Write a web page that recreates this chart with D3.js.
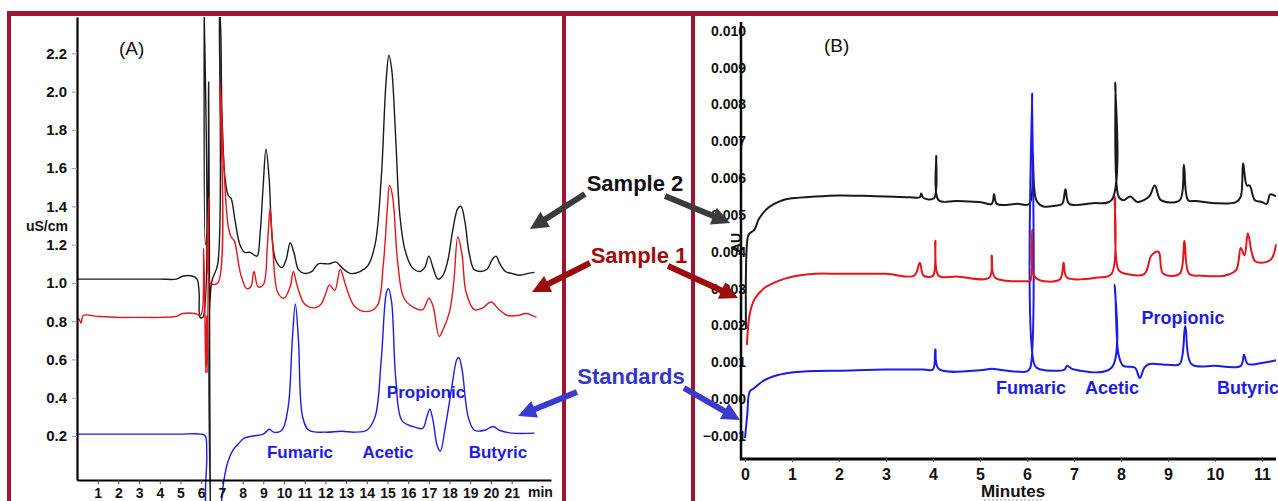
<!DOCTYPE html>
<html>
<head>
<meta charset="utf-8">
<script src="https://cdn.jsdelivr.net/npm/d3@7"></script>
<style>
  body { margin: 0; background: #fff; }
  svg { display: block; }
</style>
</head>
<body>
<script>
// Panel A: ion chromatography, time (min) vs conductivity (uS/cm)
const yTicksA = [0.2, 0.4, 0.6, 0.8, 1.0, 1.2, 1.4, 1.6, 1.8, 2.0, 2.2];
const xTicksA = d3.range(1, 22);

const sample2A = [
  [0, 1.02], [1, 1.02], [2, 1.02], [3, 1.02], [4, 1.02], [4.8, 1.02], [5.1, 1.035], [5.6, 1.035],
  [5.8, 1.02], [5.9, 0.95], [5.95, 0.82], [6.08, 0.82], [6.14, 2.45], [6.2, 1.2], [6.3, 1.3],
  [6.36, 2.05], [6.4, 1.0], [6.44, -0.15], [6.5, 1.0], [6.8, 1.1], [6.88, 2.45], [6.95, 2.3],
  [7.0, 1.9], [7.15, 1.55], [7.3, 1.46], [7.45, 1.44], [7.63, 1.33], [7.87, 1.2], [8.1, 1.16],
  [8.36, 1.16], [8.5, 1.15], [8.7, 1.14], [8.84, 1.25], [8.99, 1.5], [9.13, 1.70], [9.28, 1.55],
  [9.42, 1.25], [9.6, 1.12], [9.9, 1.08], [10.1, 1.12], [10.3, 1.21], [10.5, 1.15], [10.7, 1.07],
  [11.0, 1.05], [11.35, 1.06], [11.65, 1.10], [12.0, 1.10], [12.2, 1.10], [12.5, 1.11], [12.8, 1.08],
  [13.2, 1.05], [13.7, 1.06], [14.05, 1.09], [14.4, 1.2], [14.7, 1.55], [14.93, 2.05], [15.07, 2.19],
  [15.2, 2.12], [15.4, 1.75], [15.6, 1.35], [15.85, 1.17], [16.2, 1.08], [16.57, 1.06], [16.8, 1.08],
  [17.0, 1.14], [17.2, 1.08], [17.44, 1.02], [17.68, 1.04], [17.92, 1.12], [18.16, 1.28], [18.4, 1.39],
  [18.55, 1.40], [18.74, 1.32], [18.94, 1.16], [19.18, 1.07], [19.47, 1.06], [19.8, 1.07], [20.05, 1.12],
  [20.24, 1.14], [20.43, 1.1], [20.7, 1.06], [21.0, 1.05], [21.4, 1.04], [21.8, 1.05], [22.1, 1.055]
];

const sample1A = [
  [0, 0.82], [0.1, 0.81], [0.2, 0.79], [0.3, 0.83], [1, 0.825], [2, 0.82], [3, 0.82], [4, 0.82],
  [4.8, 0.825], [5.1, 0.84], [5.7, 0.84], [5.95, 0.83], [6.05, 0.85], [6.12, 1.18], [6.18, 0.83],
  [6.22, 0.53], [6.26, 0.83], [6.29, 0.53], [6.33, 0.9], [6.38, 1.45], [6.44, 1.0], [6.8, 1.0],
  [6.9, 2.05], [7.0, 1.85], [7.1, 1.6], [7.3, 1.3], [7.45, 1.24], [7.6, 1.22], [7.9, 1.05],
  [8.2, 0.97], [8.4, 0.98], [8.55, 1.06], [8.75, 0.98], [9.0, 0.99], [9.2, 1.2], [9.33, 1.39],
  [9.45, 1.2], [9.7, 0.95], [10.0, 0.92], [10.3, 0.98], [10.45, 1.06], [10.65, 0.98], [11.0, 0.89],
  [11.5, 0.87], [11.8, 0.89], [12.0, 0.94], [12.2, 0.99], [12.45, 0.96], [12.72, 1.07], [13.0, 0.98],
  [13.4, 0.88], [14.0, 0.85], [14.5, 0.88], [14.8, 1.1], [15.0, 1.4], [15.1, 1.51], [15.25, 1.45],
  [15.5, 1.1], [15.8, 0.92], [16.3, 0.87], [16.7, 0.86], [17.0, 0.92], [17.2, 0.88], [17.5, 0.72],
  [17.7, 0.76], [18.0, 0.85], [18.2, 1.0], [18.4, 1.24], [18.6, 1.15], [18.8, 0.95], [19.2, 0.86],
  [19.6, 0.87], [20.0, 0.90], [20.4, 0.86], [20.8, 0.83], [21.3, 0.83], [21.7, 0.84], [22.2, 0.82]
];

const standardsA = [
  [0, 0.21], [1, 0.21], [2, 0.21], [3, 0.21], [4, 0.21], [5, 0.21], [6.0, 0.21], [6.2, 0.2],
  [6.27, 0.1], [6.34, -0.2], [6.9, -0.2], [7.0, -0.12], [7.1, -0.03], [7.25, 0.05], [7.5, 0.12],
  [7.8, 0.16], [8.1, 0.19], [8.5, 0.2], [9.0, 0.21], [9.3, 0.235], [9.5, 0.22], [9.9, 0.23],
  [10.2, 0.35], [10.4, 0.7], [10.55, 0.89], [10.7, 0.7], [10.9, 0.3], [11.2, 0.23], [12.0, 0.22],
  [12.8, 0.225], [13.4, 0.22], [14.0, 0.23], [14.4, 0.3], [14.7, 0.6], [14.95, 0.95], [15.05, 0.97],
  [15.2, 0.9], [15.4, 0.5], [15.7, 0.28], [16.2, 0.25], [16.7, 0.24], [16.9, 0.3], [17.05, 0.34],
  [17.2, 0.28], [17.4, 0.15], [17.55, 0.12], [17.8, 0.25], [18.1, 0.45], [18.35, 0.6], [18.45, 0.61],
  [18.6, 0.55], [18.9, 0.3], [19.2, 0.23], [19.7, 0.23], [20.1, 0.25], [20.4, 0.23], [21.0, 0.215],
  [22.1, 0.215]
];

// Panel B: UV detection, time (min) vs absorbance (AU)
const yTicksB = [-0.001, 0, 0.001, 0.002, 0.003, 0.004, 0.005, 0.006, 0.007, 0.008, 0.009, 0.010];
const xTicksB = d3.range(0, 12);

const sample2B = [
  [0.02, 0.0019], [0.06, 0.0044], [0.1, 0.0045], [0.2, 0.0046], [0.3, 0.0049], [0.5, 0.0052],
  [0.8, 0.0054], [1.0, 0.00545], [1.5, 0.0055], [2.0, 0.00553], [2.5, 0.00552], [3.0, 0.0055],
  [3.5, 0.00548], [3.72, 0.00548], [3.75, 0.00558], [3.8, 0.00546], [4.02, 0.00545], [4.07, 0.0066],
  [4.12, 0.0054], [4.5, 0.00538], [5.0, 0.00535], [5.25, 0.0053], [5.3, 0.00556], [5.36, 0.0053],
  [5.8, 0.0053], [6.05, 0.0053], [6.12, 0.0067], [6.2, 0.0054], [6.35, 0.00523], [6.6, 0.00525],
  [6.75, 0.0053], [6.82, 0.0057], [6.9, 0.0053], [7.4, 0.00532], [7.8, 0.0054], [7.88, 0.0086],
  [7.95, 0.0055], [8.05, 0.0054], [8.2, 0.0055], [8.35, 0.00535], [8.6, 0.0055], [8.72, 0.0058],
  [8.85, 0.0054], [9.25, 0.0054], [9.34, 0.00636], [9.43, 0.0054], [9.6, 0.00538], [10.0, 0.00532],
  [10.45, 0.00535], [10.55, 0.0055], [10.6, 0.0064], [10.68, 0.0058], [10.74, 0.0058], [10.85, 0.0054],
  [11.0, 0.00535], [11.1, 0.0053], [11.18, 0.00556], [11.3, 0.0055]
];

const sample1B = [
  [0.04, 0.00147], [0.1, 0.0023], [0.2, 0.0027], [0.4, 0.003], [0.7, 0.0032], [1.0, 0.00332],
  [1.5, 0.0034], [2.0, 0.0034], [3.0, 0.0034], [3.6, 0.00335], [3.72, 0.0037], [3.8, 0.00335],
  [4.0, 0.00335], [4.05, 0.0043], [4.12, 0.00335], [4.5, 0.00333], [5.2, 0.0033], [5.25, 0.0039],
  [5.32, 0.0033], [6.0, 0.0032], [6.07, 0.0032], [6.11, 0.0046], [6.18, 0.0033], [6.7, 0.00325],
  [6.78, 0.0037], [6.85, 0.0033], [7.5, 0.0033], [7.8, 0.0034], [7.87, 0.0055], [7.95, 0.0035],
  [8.1, 0.0034], [8.5, 0.0034], [8.65, 0.0039], [8.8, 0.0040], [8.9, 0.0034], [9.25, 0.0034],
  [9.35, 0.0043], [9.45, 0.0034], [9.7, 0.00335], [10.2, 0.00335], [10.45, 0.0035], [10.55, 0.0041],
  [10.63, 0.0039], [10.7, 0.0045], [10.78, 0.004], [10.85, 0.00375], [11.0, 0.0037], [11.2, 0.0038],
  [11.3, 0.0042]
];

const standardsB = [
  [0.0, -0.00106], [0.05, -0.0004], [0.1, 0.0002], [0.2, 0.0003], [0.4, 0.0005], [0.7, 0.00065],
  [1.0, 0.00072], [1.5, 0.00076], [2.0, 0.00077], [3.0, 0.0008], [3.8, 0.0008], [4.0, 0.0008],
  [4.05, 0.00135], [4.12, 0.00082], [5.0, 0.00078], [5.25, 0.00082], [5.5, 0.00078], [6.0, 0.00075],
  [6.07, 0.00085], [6.11, 0.0083], [6.17, 0.0009], [6.3, 0.0008], [6.8, 0.0008], [6.85, 0.0009],
  [7.0, 0.0008], [7.8, 0.00085], [7.87, 0.0031], [7.95, 0.0012], [8.05, 0.0009], [8.3, 0.00085],
  [8.4, 0.00057], [8.5, 0.00085], [8.6, 0.00095], [9.0, 0.00093], [9.25, 0.00095], [9.37, 0.00198],
  [9.5, 0.00095], [10.0, 0.0009], [10.55, 0.0009], [10.62, 0.0012], [10.7, 0.00095], [11.0, 0.00098],
  [11.3, 0.00105]
];

const peakLabels = ["Fumaric", "Acetic", "Propionic", "Butyric"];

const W = 1278, H = 501;
const font = "'Liberation Sans', Arial, sans-serif";
const frameColor = "#a1142f";
const colors = { s2: "#1a1a1a", s1: "#e3161c", std: "#1c1ce6" };

const svg = d3.select("body").append("svg")
  .attr("width", W).attr("height", H)
  .attr("font-family", font);

// frame
svg.append("rect").attr("x", 7).attr("y", 11).attr("width", W - 7).attr("height", 5).attr("fill", frameColor);
[7, 562, 691].forEach(x => {
  svg.append("rect").attr("x", x).attr("y", 11).attr("width", 4).attr("height", H - 11).attr("fill", frameColor);
});

// ---------- Panel A ----------
const xA = d3.scaleLinear().domain([0, 22.9]).range([77, 551]);
const yA = d3.scaleLinear().domain([-0.03, 2.39]).range([480, 17]);

svg.append("clipPath").attr("id", "clipA")
  .append("rect").attr("x", 77).attr("y", 17).attr("width", 480).attr("height", 484);

const lineA = d3.line().x(d => xA(d[0])).y(d => yA(d[1])).curve(d3.curveCatmullRom.alpha(0.5));
const gA = svg.append("g").attr("clip-path", "url(#clipA)");
[[sample2A, colors.s2], [standardsA, colors.std], [sample1A, colors.s1]].forEach(([data, c]) => {
  gA.append("path").datum(data).attr("d", lineA)
    .attr("fill", "none").attr("stroke", c).attr("stroke-width", 1.4).attr("stroke-linejoin", "round");
});

const axA = svg.append("g").attr("transform", `translate(${xA(0)},0)`)
  .call(d3.axisLeft(yA).tickValues(yTicksA).tickSize(5).tickSizeOuter(0).tickPadding(5).tickFormat(d3.format(".1f")));
axA.select(".domain").attr("stroke", "#000").attr("stroke-width", 2.2);
axA.selectAll(".tick line").attr("stroke", "#999");
axA.selectAll("text").attr("font-size", 15).attr("font-weight", "bold").attr("font-family", font).attr("fill", "#111");

const axAx = svg.append("g").attr("transform", `translate(0,${yA.range()[0]})`)
  .call(d3.axisBottom(xA).tickValues(xTicksA).tickSize(4).tickSizeOuter(0).tickPadding(4));
axAx.select(".domain").attr("stroke", "#000").attr("stroke-width", 2.2);
axAx.selectAll(".tick line").attr("stroke", "#444");
axAx.selectAll("text").attr("font-size", 14).attr("font-weight", "bold").attr("font-family", font).attr("fill", "#111");
svg.append("text").attr("x", 528).attr("y", 497).attr("font-size", 14).attr("font-weight", "bold").attr("fill", "#111").text("min");

// unit label sits between the 1.4 and 1.2 ticks
svg.append("text").attr("x", 68).attr("y", (yA(1.4) + yA(1.2)) / 2 + 5).attr("text-anchor", "end")
  .attr("font-size", 14).attr("font-weight", "bold").attr("fill", "#111").text("uS/cm");
svg.append("text").attr("x", 119).attr("y", 55).attr("font-size", 19).attr("fill", "#111").text("(A)");

const labA = [[300, 458], [388, 458], [426, 398], [498, 458]];
peakLabels.forEach((t, i) => {
  svg.append("text").attr("x", labA[i][0]).attr("y", labA[i][1]).attr("text-anchor", "middle")
    .attr("font-size", 17).attr("font-weight", "bold").attr("fill", colors.std).text(t);
});

// ---------- Panel B ----------
const xB = d3.scaleLinear().domain([0, 11.3]).range([745, 1276]);
const yB = d3.scaleLinear().domain([-0.00163, 0.01024]).range([459, 22]);

const axB = svg.append("g").attr("transform", "translate(741,0)")
  .call(d3.axisLeft(yB).tickValues(yTicksB).tickSize(0).tickPadding(-5).tickFormat(d3.format(".3f")));
axB.select(".domain").remove();
axB.selectAll("text").attr("font-size", 14).attr("font-weight", "bold").attr("font-family", font).attr("fill", "#111");

svg.append("text").attr("transform", "translate(741,243) rotate(-90)").attr("text-anchor", "middle")
  .attr("font-size", 14).attr("font-weight", "bold").attr("fill", "#111").text("AU");

svg.append("clipPath").attr("id", "clipB")
  .append("rect").attr("x", 741).attr("y", 20).attr("width", W - 741).attr("height", 440);

const lineB = d3.line().x(d => xB(d[0])).y(d => yB(d[1])).curve(d3.curveCatmullRom.alpha(0.5));
const gB = svg.append("g").attr("clip-path", "url(#clipB)");
[[sample2B, colors.s2], [standardsB, colors.std], [sample1B, colors.s1]].forEach(([data, c]) => {
  gB.append("path").datum(data).attr("d", lineB)
    .attr("fill", "none").attr("stroke", c).attr("stroke-width", 2).attr("stroke-linejoin", "round");
});

svg.append("line").attr("x1", 741).attr("x2", 741).attr("y1", 22).attr("y2", 460)
  .attr("stroke", "#000").attr("stroke-width", 2.5);
const axBx = svg.append("g").attr("transform", "translate(0,459)")
  .call(d3.axisBottom(xB).tickValues(xTicksB).tickSize(3).tickSizeOuter(0).tickPadding(7));
axBx.select(".domain").attr("d", `M740,0H1276`).attr("stroke", "#000").attr("stroke-width", 3);
axBx.selectAll(".tick line").attr("stroke", "#555");
axBx.selectAll("text").attr("font-size", 16).attr("font-weight", "bold").attr("font-family", font).attr("fill", "#111");

svg.append("text").attr("x", 1013).attr("y", 497).attr("text-anchor", "middle")
  .attr("font-size", 17).attr("font-weight", "bold").attr("fill", "#111").text("Minutes");
svg.append("line").attr("x1", 984).attr("x2", 1042).attr("y1", 500).attr("y2", 500)
  .attr("stroke", "#999").attr("stroke-width", 1).attr("stroke-dasharray", "2,2");

svg.append("text").attr("x", 824).attr("y", 52).attr("font-size", 19).attr("fill", "#111").text("(B)");

const labB = [[1031, 394], [1112, 394], [1183, 324], [1248, 394]];
peakLabels.forEach((t, i) => {
  svg.append("text").attr("x", labB[i][0]).attr("y", labB[i][1]).attr("text-anchor", "middle")
    .attr("font-size", 18).attr("font-weight", "bold").attr("fill", colors.std).text(t);
});

// ---------- middle annotations ----------
function arrow(x1, y1, x2, y2, color) {
  const dx = x2 - x1, dy = y2 - y1, len = Math.hypot(dx, dy);
  const ux = dx / len, uy = dy / len, nx = -uy, ny = ux;
  const w = 3, hw = 9, hl = 18;
  const bx = x2 - ux * hl, by = y2 - uy * hl;
  const pts = [
    [x1 + nx * w, y1 + ny * w], [bx + nx * w, by + ny * w], [bx + nx * hw, by + ny * hw],
    [x2, y2],
    [bx - nx * hw, by - ny * hw], [bx - nx * w, by - ny * w], [x1 - nx * w, y1 - ny * w]
  ];
  svg.append("path").attr("d", "M" + pts.map(p => p.join(",")).join("L") + "Z").attr("fill", color);
}

const notes = [
  { text: "Sample 2", x: 635, y: 191, color: "#111", arrowColor: "#3b3b3b", left: [585, 194, 530, 229], right: [665, 196, 730, 223] },
  { text: "Sample 1", x: 639, y: 263, color: "#a00d0d", arrowColor: "#9c0c0c", left: [590, 263, 532, 292], right: [668, 266, 738, 298] },
  { text: "Standards", x: 631, y: 384, color: "#3535cc", arrowColor: "#3a3ad0", left: [577, 392, 518, 416], right: [684, 388, 740, 420] }
];
notes.forEach(n => {
  svg.append("text").attr("x", n.x).attr("y", n.y).attr("text-anchor", "middle")
    .attr("font-size", 22).attr("font-weight", "bold").attr("fill", n.color).text(n.text);
  arrow(...n.left, n.arrowColor);
  arrow(...n.right, n.arrowColor);
});
</script>
</body>
</html>
